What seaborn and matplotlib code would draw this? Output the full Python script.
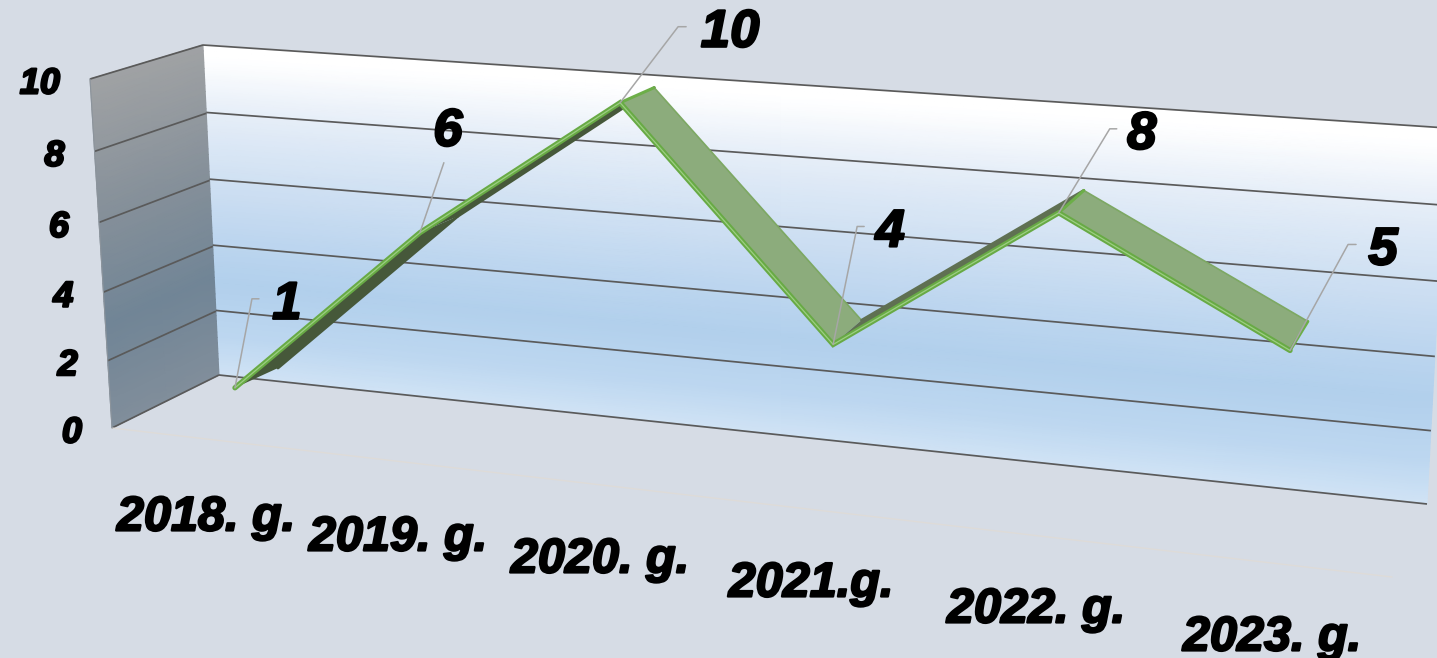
import numpy as np
import pandas as pd
import matplotlib
matplotlib.use("Agg")
import matplotlib.pyplot as plt
import matplotlib.patheffects as pe
from matplotlib.colors import LinearSegmentedColormap
from matplotlib.transforms import Transform
import seaborn as sns

# ---- data ----
categories = ["2018. g.", "2019. g.", "2020. g.", "2021.g.", "2022. g.", "2023. g."]
values = [1, 6, 10, 4, 8, 5]
y_ticks = [0, 2, 4, 6, 8, 10]

# ---- perspective layout (pixel corners: bottom-left, bottom-right, top-right, top-left) ----
W, H_PX = 1437, 658
BG = "#D6DCE5"
RIBBON_FRONT = [(236.4, 421.7), (1281.4, 542.8), (1299.0, 151.8), (221.6, 73.9)]
RIBBON_BACK = [(279.6, 400.6), (1295.5, 506.2), (1320.7, 128.5), (262.5, 63.6)]
BACK_WALL = [(219, 375), (1427, 504), (1447, 128), (203, 45)]
SIDE_WALL = [(112, 428), (219, 375), (203, 45), (90, 79)]
FLOOR_FRONT_END = (1392, 577)


class Perspective(Transform):
    """Homography from (u, value) to figure pixels."""
    input_dims = output_dims = 2
    is_separable = False
    has_inverse = False

    def __init__(self, corners, u_max, v_max=10):
        super().__init__()
        src = [(0, 0), (u_max, 0), (u_max, v_max), (0, v_max)]
        A, b = [], []
        for (a, c), (x, y) in zip(src, corners):
            A.append([a, c, 1, 0, 0, 0, -a * x, -c * x]); b.append(x)
            A.append([0, 0, 0, a, c, 1, -a * y, -c * y]); b.append(y)
        self.h = np.append(np.linalg.solve(np.array(A, float), np.array(b, float)), 1).reshape(3, 3)

    def transform_non_affine(self, values):
        pts = np.asarray(values, float)
        q = np.c_[pts, np.ones(len(pts))] @ self.h.T
        return q[:, :2] / q[:, 2:]


sns.set_theme(style="white")
plt.rcParams["font.family"] = ["Liberation Sans", "DejaVu Sans"]

fig = plt.figure(figsize=(W / 100, H_PX / 100), dpi=100, facecolor=BG)
ax = fig.add_axes([0, 0, 1, 1])
ax.set_xlim(0, W)
ax.set_ylim(H_PX, 0)
ax.set_autoscale_on(False)
ax.set_axis_off()

front = Perspective(RIBBON_FRONT, 5)
back = Perspective(RIBBON_BACK, 5)
wall = Perspective(BACK_WALL, 1)
side = Perspective(SIDE_WALL, 1)

# ---- walls ----
wall_cmap = LinearSegmentedColormap.from_list("wall", [
    (0.0, "#D0E3F5"), (0.12, "#BDD7F0"), (0.28, "#B2D0EC"), (0.42, "#BDD6EF"),
    (0.62, "#D2E2F3"), (0.80, "#E6EEF8"), (0.96, "#FFFFFF"), (1.0, "#FFFFFF")])
side_cmap = LinearSegmentedColormap.from_list("side", [
    (0.0, "#818E9B"), (0.30, "#718596"), (0.60, "#848F99"), (1.0, "#A0A2A4")])
U, V = np.meshgrid(np.linspace(0, 1, 3), np.linspace(0, 10, 60))
for tr, cmap in ((wall, wall_cmap), (side, side_cmap)):
    ax.pcolormesh(U, V, V, shading="gouraud", cmap=cmap, vmin=0, vmax=10,
                  transform=tr + ax.transData, zorder=1)

# ---- gridlines ----
for t in y_ticks:
    for tr in (wall, side):
        ax.plot([0, 1], [t, t], color="#5A5A5A", lw=1.25, transform=tr + ax.transData,
                solid_capstyle="butt", zorder=2)
ax.plot([SIDE_WALL[0][0], FLOOR_FRONT_END[0]], [SIDE_WALL[0][1], FLOOR_FRONT_END[1]],
        color="#DEDBD8", lw=1.0, zorder=2)
ax.plot([SIDE_WALL[3][0], SIDE_WALL[0][0]], [SIDE_WALL[3][1], SIDE_WALL[0][1]],
        color="#8C949C", lw=0.8, zorder=2)

# ---- ribbon ----
idx = np.arange(len(values))
df = pd.DataFrame({"i": idx, "value": values})
pts = np.c_[idx, values]
F = front.transform(pts)
B = back.transform(pts)
segment_colors = ["#46583A", "#46583A", "#8CAC7C", "#5F7052", "#8CAC7C"]
for k, col in enumerate(segment_colors):
    poly = np.array([F[k], F[k + 1], B[k + 1], B[k]])
    ax.fill(poly[:, 0], poly[:, 1], color=col, lw=0, zorder=3)
    if values[k + 1] < values[k]:
        ax.plot(*np.array([B[k], B[k + 1]]).T, color="#7DA863", lw=1.2, zorder=3)
    else:
        ax.plot(*np.array([B[k], B[k + 1]]).T, color=col, lw=2.0, zorder=3)
for k in (2, 4, 5):
    ax.plot(*np.array([F[k], B[k]]).T, color="#6CAE48", lw=2.2, solid_capstyle="round", zorder=3)
sns.lineplot(data=df, x="i", y="value", ax=ax, color="#68AA45", lw=3.8, sort=False, errorbar=None,
             transform=front + ax.transData, zorder=4, solid_joinstyle="miter", legend=False)
sns.lineplot(data=df, x="i", y="value", ax=ax, color="#9CCF82", lw=0.9, sort=False, errorbar=None,
             transform=front + ax.transData, zorder=5, solid_joinstyle="miter", legend=False)
ax.set_xlim(0, W)
ax.set_ylim(H_PX, 0)
ax.set_xlabel("")
ax.set_ylabel("")

# ---- text ----
heavy = [pe.withStroke(linewidth=1.6, foreground="black")]
text_kw = dict(color="black", fontweight="bold", fontstyle="italic", ha="center", va="center",
               path_effects=heavy, zorder=7)

elbows = [(17, -89), (24, -70), (58, -76), (24, -118), (51, -84), (58, -106)]
stubs = [7, 0, 8, 7, 7, 8]
label_offsets = [(52, -83), (28, -101), (110, -70), (57, -112), (83, -78), (93, -100)]
for p, e, s, off, val in zip(F, elbows, stubs, label_offsets, values):
    ex, ey = p[0] + e[0], p[1] + e[1]
    ax.plot([p[0], ex, ex + s], [p[1], ey, ey], color="#A6A6A6", lw=1.1, zorder=6)
    ax.text(p[0] + off[0], p[1] + off[1], str(val), fontsize=38, **text_kw)

for t in y_ticks:
    x, y = side.transform([[0, t]])[0]
    ax.text(x - 30, y + 5, str(t), fontsize=26,
            **{**text_kw, "ha": "right"})

category_pos = [(206, 518), (398, 538), (600, 560), (811, 584), (1036, 610), (1272, 638)]
for name, (x, y) in zip(categories, category_pos):
    ax.text(x, y, name, fontsize=35, **text_kw)

fig.savefig("out.png", dpi=100, facecolor=BG)
